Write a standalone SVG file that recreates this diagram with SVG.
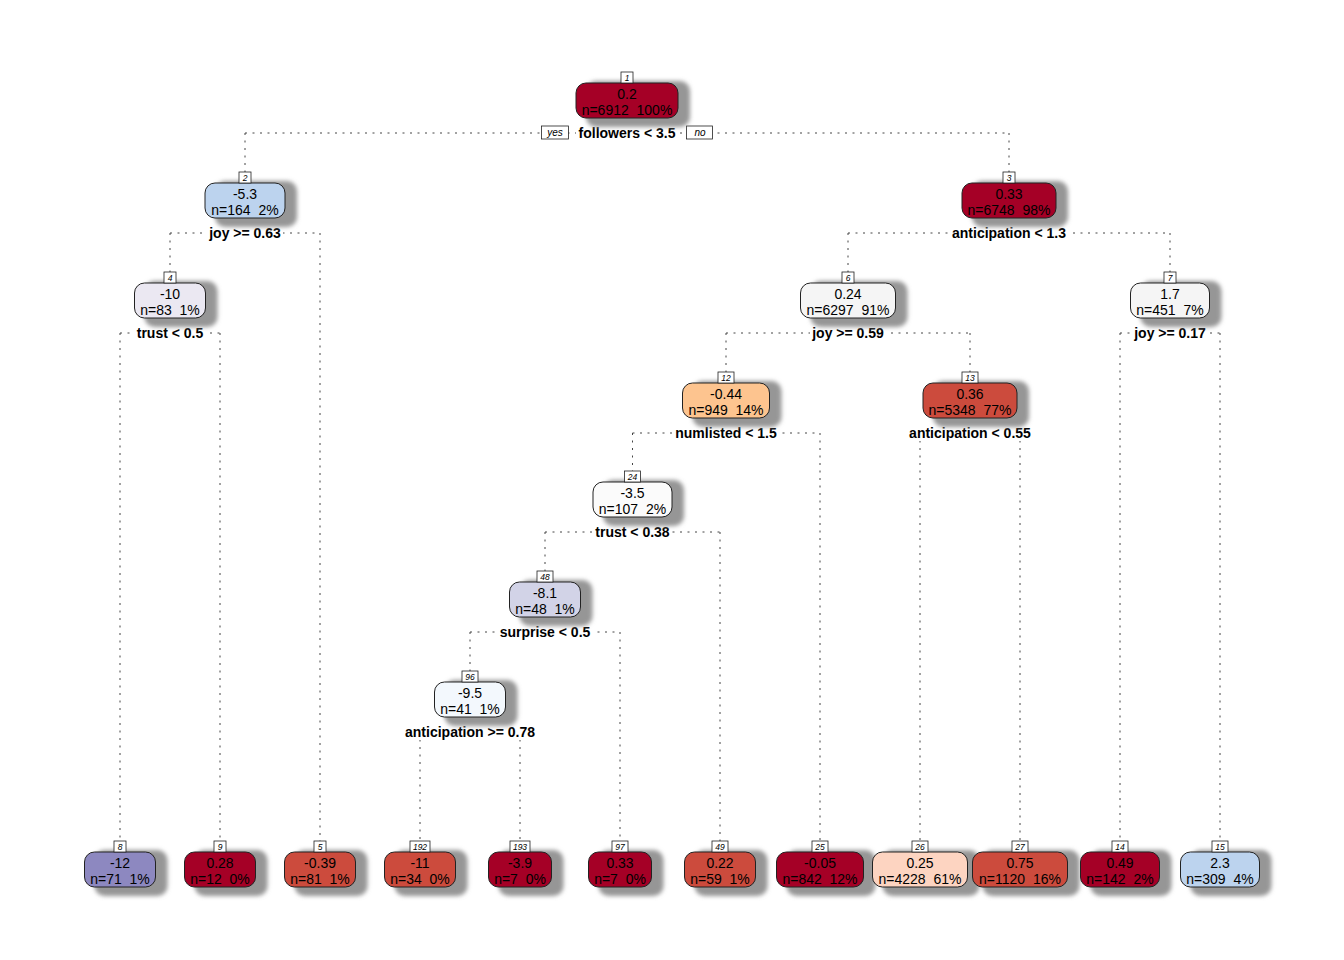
<svg xmlns="http://www.w3.org/2000/svg" width="1344" height="960" viewBox="0 0 1344 960">
<defs>
<filter id="sh" x="-30%" y="-40%" width="160%" height="180%"><feGaussianBlur stdDeviation="2.2"/></filter>
</defs>
<style>
text{font-family:"Liberation Sans",Arial,sans-serif;white-space:pre;text-anchor:middle;fill:#000}
.v{font-size:14px}
.sp{font-size:14px;font-weight:bold}
.num{font-size:8.5px;font-style:italic}
.yn{font-size:10px;font-style:italic}
.box{stroke:#222;stroke-width:1}
.shd{fill:#969696;filter:url(#sh)}
.lb{fill:#fff;stroke:#222;stroke-width:0.8}
.bg{fill:#fff}
.ln{fill:none;stroke:#444;stroke-width:1;stroke-dasharray:2 5.5}
</style>
<rect width="1344" height="960" fill="#fff"/>
<g id="connectors">
<path class="ln" d="M245,133H1009M245,133V172M1009,133V172"/>
<path class="ln" d="M170,233H320M170,233V272M320,233V841"/>
<path class="ln" d="M848,233H1170M848,233V272M1170,233V272"/>
<path class="ln" d="M120,333H220M120,333V841M220,333V841"/>
<path class="ln" d="M726,333H970M726,333V372M970,333V372"/>
<path class="ln" d="M1120,333H1220M1120,333V841M1220,333V841"/>
<path class="ln" d="M632.5,433H820M632.5,433V471M820,433V841"/>
<path class="ln" d="M920,433H1020M920,433V841M1020,433V841"/>
<path class="ln" d="M545,532H720M545,532V571M720,532V841"/>
<path class="ln" d="M470,632H620M470,632V671M620,632V841"/>
<path class="ln" d="M420,732H520M420,732V841M520,732V841"/>
</g>
<g id="splits">
<rect class="bg" x="576" y="124" width="102" height="17"/><text class="sp" x="627" y="138">followers &lt; 3.5</text>
<rect class="lb" x="541.5" y="126" width="27" height="13"/><text class="yn" x="555" y="136">yes</text>
<rect class="lb" x="686.5" y="126" width="26" height="13"/><text class="yn" x="700" y="136">no</text>
<rect class="bg" x="207" y="224" width="76" height="17"/><text class="sp" x="245" y="238">joy &gt;= 0.63</text>
<rect class="bg" x="950" y="224" width="118" height="17"/><text class="sp" x="1009" y="238">anticipation &lt; 1.3</text>
<rect class="bg" x="135" y="324" width="70" height="17"/><text class="sp" x="170" y="338">trust &lt; 0.5</text>
<rect class="bg" x="810" y="324" width="76" height="17"/><text class="sp" x="848" y="338">joy &gt;= 0.59</text>
<rect class="bg" x="1132" y="324" width="76" height="17"/><text class="sp" x="1170" y="338">joy &gt;= 0.17</text>
<rect class="bg" x="674" y="424" width="105" height="17"/><text class="sp" x="726" y="438">numlisted &lt; 1.5</text>
<rect class="bg" x="907" y="424" width="126" height="17"/><text class="sp" x="970" y="438">anticipation &lt; 0.55</text>
<rect class="bg" x="594" y="523" width="78" height="17"/><text class="sp" x="632.5" y="537">trust &lt; 0.38</text>
<rect class="bg" x="498" y="623" width="94" height="17"/><text class="sp" x="545" y="637">surprise &lt; 0.5</text>
<rect class="bg" x="403" y="723" width="134" height="17"/><text class="sp" x="470" y="737">anticipation &gt;= 0.78</text>
</g>
<g id="n1" transform="translate(627,83)"><rect class="shd" x="-41" y="-2" width="104" height="46" rx="10"/><rect class="box" x="-51" y="0" width="102" height="35" rx="10" fill="#A50026"/><text class="v" x="0" y="16">0.2</text><text class="v" x="0" y="32">n=6912  100%</text><rect class="lb" x="-6" y="-11" width="12" height="11"/><text class="num" x="0" y="-2.5">1</text></g>
<g id="n2" transform="translate(245,183)"><rect class="shd" x="-30" y="-2" width="82" height="46" rx="10"/><rect class="box" x="-40" y="0" width="80" height="35" rx="10" fill="#BCD3EE"/><text class="v" x="0" y="16">-5.3</text><text class="v" x="0" y="32">n=164  2%</text><rect class="lb" x="-6" y="-11" width="12" height="11"/><text class="num" x="0" y="-2.5">2</text></g>
<g id="n3" transform="translate(1009,183)"><rect class="shd" x="-37" y="-2" width="96" height="46" rx="10"/><rect class="box" x="-47" y="0" width="94" height="35" rx="10" fill="#A50026"/><text class="v" x="0" y="16">0.33</text><text class="v" x="0" y="32">n=6748  98%</text><rect class="lb" x="-6" y="-11" width="12" height="11"/><text class="num" x="0" y="-2.5">3</text></g>
<g id="n4" transform="translate(170,283)"><rect class="shd" x="-25.5" y="-2" width="73" height="46" rx="10"/><rect class="box" x="-35.5" y="0" width="71" height="35" rx="10" fill="#EBE8F2"/><text class="v" x="0" y="16">-10</text><text class="v" x="0" y="32">n=83  1%</text><rect class="lb" x="-6" y="-11" width="12" height="11"/><text class="num" x="0" y="-2.5">4</text></g>
<g id="n6" transform="translate(848,283)"><rect class="shd" x="-37.5" y="-2" width="97" height="46" rx="10"/><rect class="box" x="-47.5" y="0" width="95" height="35" rx="10" fill="#F5F5F5"/><text class="v" x="0" y="16">0.24</text><text class="v" x="0" y="32">n=6297  91%</text><rect class="lb" x="-6" y="-11" width="12" height="11"/><text class="num" x="0" y="-2.5">6</text></g>
<g id="n7" transform="translate(1170,283)"><rect class="shd" x="-29.5" y="-2" width="81" height="46" rx="10"/><rect class="box" x="-39.5" y="0" width="79" height="35" rx="10" fill="#F5F5F5"/><text class="v" x="0" y="16">1.7</text><text class="v" x="0" y="32">n=451  7%</text><rect class="lb" x="-6" y="-11" width="12" height="11"/><text class="num" x="0" y="-2.5">7</text></g>
<g id="n12" transform="translate(726,383)"><rect class="shd" x="-33.5" y="-2" width="89" height="46" rx="10"/><rect class="box" x="-43.5" y="0" width="87" height="35" rx="10" fill="#FDC48F"/><text class="v" x="0" y="16">-0.44</text><text class="v" x="0" y="32">n=949  14%</text><rect class="lb" x="-8" y="-11" width="16" height="11"/><text class="num" x="0" y="-2.5">12</text></g>
<g id="n13" transform="translate(970,383)"><rect class="shd" x="-37" y="-2" width="96" height="46" rx="10"/><rect class="box" x="-47" y="0" width="94" height="35" rx="10" fill="#CC4B3D"/><text class="v" x="0" y="16">0.36</text><text class="v" x="0" y="32">n=5348  77%</text><rect class="lb" x="-8" y="-11" width="16" height="11"/><text class="num" x="0" y="-2.5">13</text></g>
<g id="n24" transform="translate(632.5,482)"><rect class="shd" x="-29.5" y="-2" width="81" height="46" rx="10"/><rect class="box" x="-39.5" y="0" width="79" height="35" rx="10" fill="#FBFBFB"/><text class="v" x="0" y="16">-3.5</text><text class="v" x="0" y="32">n=107  2%</text><rect class="lb" x="-8" y="-11" width="16" height="11"/><text class="num" x="0" y="-2.5">24</text></g>
<g id="n48" transform="translate(545,582)"><rect class="shd" x="-25.5" y="-2" width="73" height="46" rx="10"/><rect class="box" x="-35.5" y="0" width="71" height="35" rx="10" fill="#D2D3E7"/><text class="v" x="0" y="16">-8.1</text><text class="v" x="0" y="32">n=48  1%</text><rect class="lb" x="-8" y="-11" width="16" height="11"/><text class="num" x="0" y="-2.5">48</text></g>
<g id="n96" transform="translate(470,682)"><rect class="shd" x="-25.5" y="-2" width="73" height="46" rx="10"/><rect class="box" x="-35.5" y="0" width="71" height="35" rx="10" fill="#F3F8FD"/><text class="v" x="0" y="16">-9.5</text><text class="v" x="0" y="32">n=41  1%</text><rect class="lb" x="-8" y="-11" width="16" height="11"/><text class="num" x="0" y="-2.5">96</text></g>
<g id="n8" transform="translate(120,852)"><rect class="shd" x="-25.5" y="-2" width="73" height="46" rx="10"/><rect class="box" x="-35.5" y="0" width="71" height="35" rx="10" fill="#8D88C0"/><text class="v" x="0" y="16">-12</text><text class="v" x="0" y="32">n=71  1%</text><rect class="lb" x="-6" y="-11" width="12" height="11"/><text class="num" x="0" y="-2.5">8</text></g>
<g id="n9" transform="translate(220,852)"><rect class="shd" x="-25.5" y="-2" width="73" height="46" rx="10"/><rect class="box" x="-35.5" y="0" width="71" height="35" rx="10" fill="#A50026"/><text class="v" x="0" y="16">0.28</text><text class="v" x="0" y="32">n=12  0%</text><rect class="lb" x="-6" y="-11" width="12" height="11"/><text class="num" x="0" y="-2.5">9</text></g>
<g id="n5" transform="translate(320,852)"><rect class="shd" x="-25.5" y="-2" width="73" height="46" rx="10"/><rect class="box" x="-35.5" y="0" width="71" height="35" rx="10" fill="#CC4B3D"/><text class="v" x="0" y="16">-0.39</text><text class="v" x="0" y="32">n=81  1%</text><rect class="lb" x="-6" y="-11" width="12" height="11"/><text class="num" x="0" y="-2.5">5</text></g>
<g id="n192" transform="translate(420,852)"><rect class="shd" x="-25.5" y="-2" width="73" height="46" rx="10"/><rect class="box" x="-35.5" y="0" width="71" height="35" rx="10" fill="#CC4B3D"/><text class="v" x="0" y="16">-11</text><text class="v" x="0" y="32">n=34  0%</text><rect class="lb" x="-10" y="-11" width="20" height="11"/><text class="num" x="0" y="-2.5">192</text></g>
<g id="n193" transform="translate(520,852)"><rect class="shd" x="-21.5" y="-2" width="65" height="46" rx="10"/><rect class="box" x="-31.5" y="0" width="63" height="35" rx="10" fill="#A50026"/><text class="v" x="0" y="16">-3.9</text><text class="v" x="0" y="32">n=7  0%</text><rect class="lb" x="-10" y="-11" width="20" height="11"/><text class="num" x="0" y="-2.5">193</text></g>
<g id="n97" transform="translate(620,852)"><rect class="shd" x="-21.5" y="-2" width="65" height="46" rx="10"/><rect class="box" x="-31.5" y="0" width="63" height="35" rx="10" fill="#A50026"/><text class="v" x="0" y="16">0.33</text><text class="v" x="0" y="32">n=7  0%</text><rect class="lb" x="-8" y="-11" width="16" height="11"/><text class="num" x="0" y="-2.5">97</text></g>
<g id="n49" transform="translate(720,852)"><rect class="shd" x="-25.5" y="-2" width="73" height="46" rx="10"/><rect class="box" x="-35.5" y="0" width="71" height="35" rx="10" fill="#CC4B3D"/><text class="v" x="0" y="16">0.22</text><text class="v" x="0" y="32">n=59  1%</text><rect class="lb" x="-8" y="-11" width="16" height="11"/><text class="num" x="0" y="-2.5">49</text></g>
<g id="n25" transform="translate(820,852)"><rect class="shd" x="-33.5" y="-2" width="89" height="46" rx="10"/><rect class="box" x="-43.5" y="0" width="87" height="35" rx="10" fill="#A50026"/><text class="v" x="0" y="16">-0.05</text><text class="v" x="0" y="32">n=842  12%</text><rect class="lb" x="-8" y="-11" width="16" height="11"/><text class="num" x="0" y="-2.5">25</text></g>
<g id="n26" transform="translate(920,852)"><rect class="shd" x="-37.5" y="-2" width="97" height="46" rx="10"/><rect class="box" x="-47.5" y="0" width="95" height="35" rx="10" fill="#FDD4C1"/><text class="v" x="0" y="16">0.25</text><text class="v" x="0" y="32">n=4228  61%</text><rect class="lb" x="-8" y="-11" width="16" height="11"/><text class="num" x="0" y="-2.5">26</text></g>
<g id="n27" transform="translate(1020,852)"><rect class="shd" x="-37.5" y="-2" width="97" height="46" rx="10"/><rect class="box" x="-47.5" y="0" width="95" height="35" rx="10" fill="#CC4B3D"/><text class="v" x="0" y="16">0.75</text><text class="v" x="0" y="32">n=1120  16%</text><rect class="lb" x="-8" y="-11" width="16" height="11"/><text class="num" x="0" y="-2.5">27</text></g>
<g id="n14" transform="translate(1120,852)"><rect class="shd" x="-29.5" y="-2" width="81" height="46" rx="10"/><rect class="box" x="-39.5" y="0" width="79" height="35" rx="10" fill="#A50026"/><text class="v" x="0" y="16">0.49</text><text class="v" x="0" y="32">n=142  2%</text><rect class="lb" x="-8" y="-11" width="16" height="11"/><text class="num" x="0" y="-2.5">14</text></g>
<g id="n15" transform="translate(1220,852)"><rect class="shd" x="-29.5" y="-2" width="81" height="46" rx="10"/><rect class="box" x="-39.5" y="0" width="79" height="35" rx="10" fill="#BCD3EE"/><text class="v" x="0" y="16">2.3</text><text class="v" x="0" y="32">n=309  4%</text><rect class="lb" x="-8" y="-11" width="16" height="11"/><text class="num" x="0" y="-2.5">15</text></g>
</svg>
